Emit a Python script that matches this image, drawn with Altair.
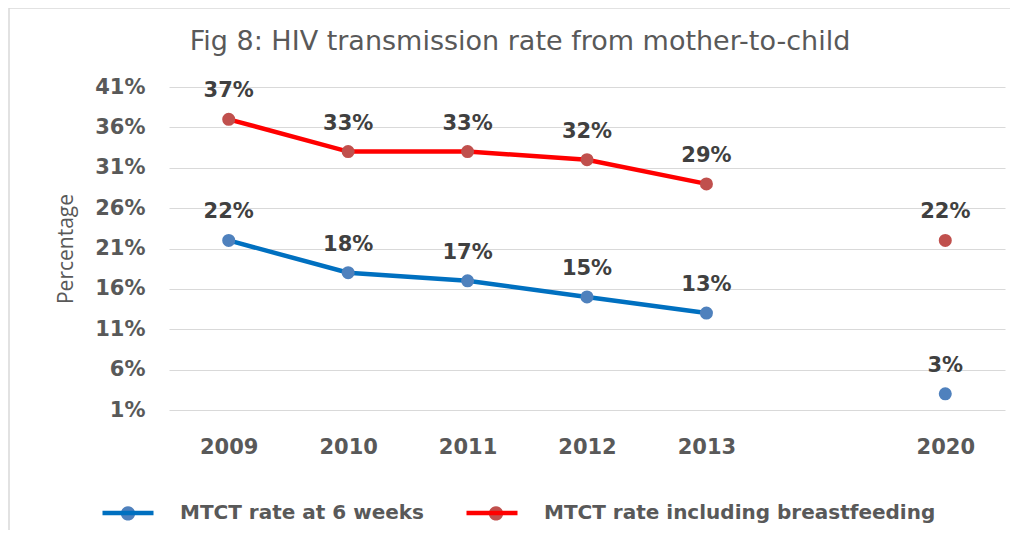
import altair as alt
import pandas as pd

# ---- data ----
years = ["2009", "2010", "2011", "2012", "2013", "2020"]
x_domain = ["2009", "2010", "2011", "2012", "2013", " ", "2020"]
series_names = ["MTCT rate at 6 weeks", "MTCT rate including breastfeeding"]
mtct_6_weeks = [22, 18, 17, 15, 13, 3]
mtct_breastfeeding = [37, 33, 33, 32, 29, 22]
y_ticks = [1, 6, 11, 16, 21, 26, 31, 36, 41]

line_colors = ["#0070C0", "#FF0000"]
marker_colors = ["#4F81BD", "#C0504D"]

rows = []
for name, vals in zip(series_names, [mtct_6_weeks, mtct_breastfeeding]):
    for y, v in zip(years, vals):
        rows.append({"year": y, "series": name, "series_pt": name,
                     "value": v, "label": f"{v}%"})
df = pd.DataFrame(rows)

W, H = 836, 323
FONT_B = "DejaVu Sans"
GREY = "#595959"

x_enc = alt.X("year:N", scale=alt.Scale(type="point", domain=x_domain, padding=0.5),
              axis=alt.Axis(title=None, labelAngle=0, ticks=False, domain=False, grid=False,
                            labelFont=FONT_B, labelFontWeight="bold", labelFontSize=21,
                            labelColor=GREY, labelPadding=26))
y_enc = alt.Y("value:Q", scale=alt.Scale(domain=[1, 41], nice=False, zero=False),
              axis=alt.Axis(title="Percentage", values=y_ticks, labelExpr="datum.value + '%'",
                            ticks=False, domain=False, grid=True, gridColor="#D9D9D9",
                            gridWidth=1.2, labelFont=FONT_B, labelFontWeight="bold",
                            labelFontSize=21, labelColor=GREY, labelPadding=24,
                            titleFont="Open Sans", titleFontWeight="normal",
                            titleFontSize=21, titleColor=GREY, titlePadding=18))

base = alt.Chart(df)

frame = alt.Chart(pd.DataFrame({"k": [0]})).mark_rect(
    fill="transparent", stroke="#D9D9D9", strokeWidth=1.5
).encode(x=alt.value(-160), x2=alt.value(1200), y=alt.value(-79), y2=alt.value(900))

lines = base.transform_filter(alt.datum.year != "2020").mark_line(strokeWidth=4.5).encode(
    x=x_enc, y=y_enc,
    color=alt.Color("series:N", scale=alt.Scale(range=line_colors),
                    legend=alt.Legend(title=None, orient="none", direction="horizontal",
                                      legendX=-69, legendY=398, symbolType="stroke",
                                      symbolSize=2601, symbolStrokeWidth=4.5,
                                      labelFont=FONT_B, labelFontWeight="bold",
                                      labelFontSize=20, labelColor=GREY, labelOffset=24,
                                      columnPadding=33, labelLimit=600)),
)

points = base.mark_circle(size=170, opacity=1).encode(
    x=x_enc, y=y_enc,
    fill=alt.Fill("series_pt:N", scale=alt.Scale(range=marker_colors),
                  legend=alt.Legend(title=None, orient="none", direction="horizontal",
                                    legendX=-69, legendY=398,
                                    symbolType="M-0.28,0A0.28,0.28 0 1,0 0.28,0A0.28,0.28 0 1,0 -0.28,0Z",
                                    symbolSize=2601, symbolStrokeWidth=4.5,
                                    symbolStrokeColor="transparent",
                                    labelExpr="''", labelFontSize=20, labelOffset=24,
                                    columnPadding=288)),
)

labels = base.mark_text(font=FONT_B, fontWeight="bold", fontSize=21, color="#404040",
                        baseline="alphabetic", dy=-22).encode(
    x=x_enc, y=y_enc, text="label:N")

chart = alt.layer(frame, lines, points, labels).properties(
    width=W, height=H,
    autosize=alt.AutoSizeParams(type="none"),
    padding={"left": 161, "top": 79, "right": 5, "bottom": 120},
    title=alt.Title("Fig 8: HIV transmission rate from mother-to-child",
                    font="DejaVu Sans", fontSize=27, fontWeight="normal", color=GREY,
                    anchor="middle", frame="group", dx=-67, offset=-70,
                    baseline="alphabetic"),
).resolve_scale(color="independent").configure_view(stroke=None)

chart.save("out.html", embed_options={"renderer": "svg", "actions": False})
